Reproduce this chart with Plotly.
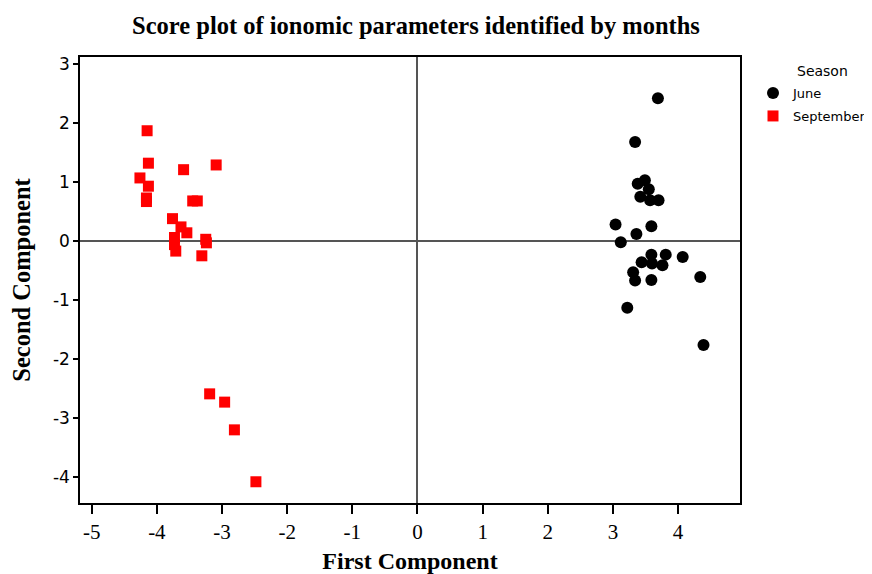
import plotly.graph_objects as go

june_x = [3.69, 3.34, 3.38, 3.49, 3.55, 3.42, 3.57, 3.70, 3.04, 3.59, 3.36, 3.12,
          3.59, 3.81, 4.07, 3.44, 3.60, 3.76, 3.31, 3.34, 3.59, 4.34, 3.22, 4.39]
june_y = [2.42, 1.68, 0.97, 1.03, 0.88, 0.75, 0.69, 0.69, 0.28, 0.25, 0.12, -0.02,
          -0.23, -0.23, -0.27, -0.36, -0.38, -0.41, -0.53, -0.67, -0.66, -0.61, -1.13, -1.76]

sep_x = [-4.15, -4.13, -3.59, -3.09, -4.26, -4.13, -4.16, -4.16, -3.45, -3.38, -3.76, -3.63,
         -3.54, -3.73, -3.73, -3.71, -3.25, -3.24, -3.31, -3.19, -2.96, -2.81, -2.48]
sep_y = [1.87, 1.32, 1.21, 1.29, 1.07, 0.93, 0.73, 0.67, 0.68, 0.68, 0.38, 0.24,
         0.14, 0.06, -0.06, -0.17, 0.03, -0.03, -0.25, -2.59, -2.73, -3.20, -4.08]

x_ticks = [-5, -4, -3, -2, -1, 0, 1, 2, 3, 4]
y_ticks = [-4, -3, -2, -1, 0, 1, 2, 3]

# page has an 8px body margin, so the figure is sized to fit the window
W, H = 864, 566

fig = go.Figure()
fig.add_trace(go.Scatter(x=june_x, y=june_y, mode="markers", name="June", legend="legend",
                         marker=dict(symbol="circle", size=12, color="black")))
fig.add_trace(go.Scatter(x=sep_x, y=sep_y, mode="markers", name="September", legend="legend2",
                         marker=dict(symbol="square", size=11, color="#ff0000")))

serif = "Liberation Serif"
sans = "DejaVu Sans"
leg_common = dict(font=dict(family=sans, size=13, color="black"),
                  xref="container", x=745 / W, xanchor="left",
                  yref="container", yanchor="top",
                  bgcolor="rgba(0,0,0,0)", borderwidth=0, itemwidth=30)
fig.update_layout(
    width=W, height=H,
    margin=dict(l=72, r=132, t=49, b=71, autoexpand=False),
    paper_bgcolor="white", plot_bgcolor="white",
    title=dict(text="<b>Score plot of ionomic parameters identified by months</b>",
               xref="container", x=408 / W, xanchor="center",
               yref="container", y=1 - 17 / H, yanchor="middle",
               font=dict(family=serif, size=24.5, color="black")),
    legend=dict(y=1 - 70 / H, **leg_common),
    legend2=dict(y=1 - 93 / H, **leg_common),
    showlegend=True,
    annotations=[dict(text="Season", xref="paper", yref="paper",
                      x=(795 - 80) / 660, y=(503 - 71) / 446, xanchor="left", yanchor="middle",
                      showarrow=False, font=dict(family=sans, size=14, color="black"))],
)
fig.update_xaxes(range=[-5.18, 4.95], tickvals=x_ticks, ticktext=[str(v) for v in x_ticks],
                 automargin=False,
                 showgrid=False, zeroline=True, zerolinecolor="#555555", zerolinewidth=1.5,
                 showline=True, linecolor="black", linewidth=1.5, mirror=True,
                 ticks="outside", ticklen=9, tickwidth=1.5, tickcolor="black",
                 tickfont=dict(family=serif, size=21, color="black"),
                 title=dict(text="<b>First Component</b>", standoff=14,
                            font=dict(family=serif, size=24, color="black")))
fig.update_yaxes(range=[-4.44, 3.12], tickvals=y_ticks, ticktext=[str(v) for v in y_ticks],
                 automargin=False,
                 showgrid=False, zeroline=True, zerolinecolor="#555555", zerolinewidth=1.5,
                 showline=True, linecolor="black", linewidth=1.5, mirror=True,
                 ticks="outside", ticklen=5, tickwidth=1.5, tickcolor="black",
                 tickfont=dict(family=sans, size=17, color="black"),
                 title=dict(text="<b>Second Component</b>", standoff=20,
                            font=dict(family=serif, size=24.5, color="black")))

fig.write_html("out.html")
